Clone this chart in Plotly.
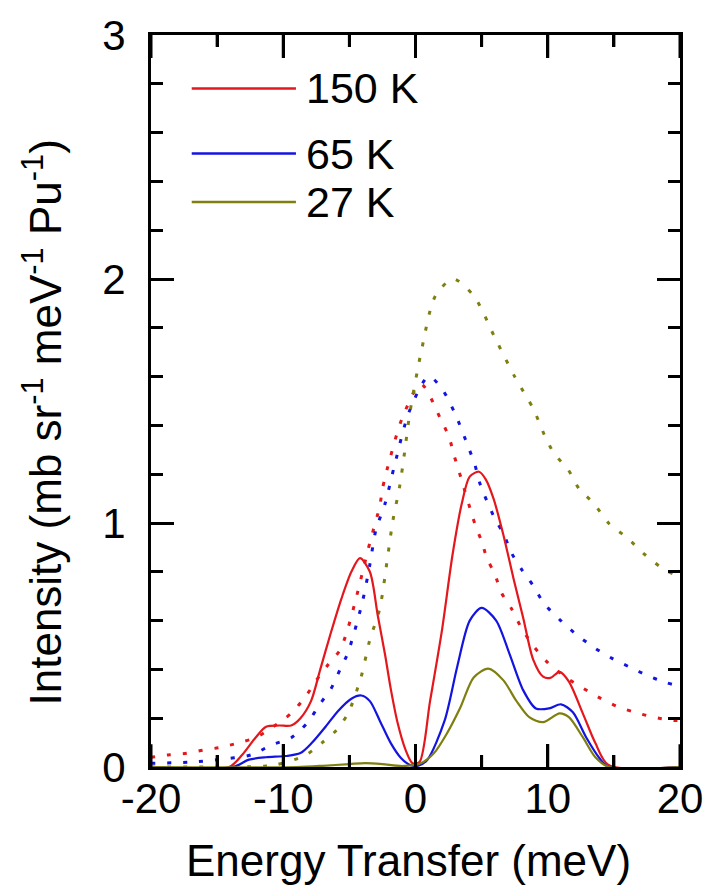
import plotly.graph_objects as go

# Series labels and colours
labels = ["150 K", "65 K", "27 K"]
colors = ["#e4171c", "#1414e0", "#7f7f10"]

# Broad (dotted) response curves: energy transfer (meV) and intensity
e_dot_150 = [-20, -18.6, -17.3, -16.0, -14.8, -13.3, -12.1, -10.9, -9.4, -8.3, -7.5, -6.6,
             -5.7, -5.1, -4.5, -4.0, -3.4, -2.7, -2.5, -1.9, -1.0, 0.4, 1.87, 2.55, 2.9, 3.3,
             4.5, 5.0, 5.4, 6.0, 6.5, 7.27, 8.0, 8.9, 10.0, 11.5, 12.7, 14.0, 15.4, 16.6,
             18.0, 19.3, 20]
i_dot_150 = [0.04, 0.05, 0.056, 0.07, 0.08, 0.10, 0.12, 0.16, 0.22, 0.29, 0.355, 0.42,
             0.48, 0.57, 0.69, 0.80, 0.93, 1.07, 1.14, 1.27, 1.43, 1.57, 1.43, 1.35, 1.28,
             1.21, 0.995, 0.925, 0.856, 0.79, 0.714, 0.648, 0.571, 0.497, 0.428, 0.363,
             0.322, 0.281, 0.245, 0.224, 0.204, 0.192, 0.19]

e_dot_65 = [-20, -17, -15, -12.4, -10.9, -9.4, -8.2, -7.2, -6.4, -5.7, -5.1, -4.0, -3.45,
            -3.0, -2.3, -1.57, -0.45, 1.0, 2.0, 3.0, 4.04, 4.49, 4.87, 5.99, 6.67, 7.27,
            8.01, 8.91, 9.74, 11.0, 12.28, 13.63, 14.9, 16.25, 17.53, 18.88, 20]
i_dot_65 = [0.015, 0.02, 0.03, 0.05, 0.09, 0.12, 0.18, 0.26, 0.32, 0.40, 0.47, 0.68, 0.83,
            0.97, 1.08, 1.24, 1.46, 1.60, 1.55, 1.447, 1.305, 1.239, 1.162, 1.019, 0.954,
            0.876, 0.811, 0.742, 0.669, 0.599, 0.538, 0.485, 0.444, 0.408, 0.375, 0.347,
            0.33]

e_dot_27 = [-20, -12, -10.6, -8.3, -7.1, -6.0, -5.1, -4.12, -3.47, -2.7, -2.1, -1.72, -1.2,
            -0.82, -0.45, 0.5, 1.5, 2.85, 4.42, 6.0, 7.5, 8.91, 9.74, 10.49, 11.54, 12.36,
            13.48, 14.61, 16.03, 17.23, 18.65, 19.78, 20]
i_dot_27 = [0.0, 0.002, 0.008, 0.049, 0.098, 0.15, 0.22, 0.368, 0.518, 0.65, 0.864, 1.007,
            1.15, 1.292, 1.443, 1.72, 1.93, 2.0, 1.93, 1.76, 1.6, 1.468, 1.362, 1.284,
            1.219, 1.141, 1.08, 0.999, 0.938, 0.876, 0.815, 0.783, 0.775]

# Structured (solid) spectra
e_sol_150 = [-20, -14.1, -13.1, -12.1, -11.3, -10.3, -9.4, -8.7, -7.9, -7.2, -6.4, -5.6,
             -4.85, -4.2, -3.45, -2.85, -2.3, -1.87, -1.35, -0.75, -0.22, 0.3, 1.1, 2.0,
             2.8, 3.5, 4.1, 4.8, 5.3, 5.9, 6.65, 7.4, 8.15, 8.9, 9.65, 10.2, 10.9, 11.6,
             12.65, 13.6, 14.6, 20]
i_sol_150 = [0, 0, 0.05, 0.12, 0.165, 0.17, 0.17, 0.20, 0.27, 0.40, 0.55, 0.69, 0.80,
             0.856, 0.80, 0.62, 0.46, 0.32, 0.18, 0.07, 0.015, 0.02, 0.27, 0.56, 0.87,
             1.08, 1.19, 1.21, 1.18, 1.10, 0.95, 0.775, 0.61, 0.44, 0.37, 0.365, 0.39,
             0.35, 0.22, 0.098, 0.008, 0]

e_sol_65 = [-20, -13.8, -12.6, -11.3, -9.8, -8.7, -7.85, -6.8, -5.85, -4.85, -4.1, -3.45,
            -2.7, -1.87, -1.1, -0.4, 0.2, 0.9, 2.2, 3.15, 4.1, 5.0, 6.1, 7.1, 8.15, 9.1,
            10.1, 11.0, 11.9, 12.9, 13.9, 14.6, 20]
i_sol_65 = [0, 0, 0.03, 0.04, 0.045, 0.057, 0.098, 0.165, 0.23, 0.28, 0.293, 0.27, 0.19,
            0.098, 0.037, 0.008, 0.005, 0.03, 0.19, 0.41, 0.60, 0.652, 0.60, 0.465, 0.314,
            0.24, 0.24, 0.257, 0.224, 0.122, 0.037, 0, 0]

e_sol_27 = [-20, -9, -7, -5, -3.8, -2.5, -1.0, 0.4, 1.4, 2.4, 3.4, 4.4, 5.5, 6.65, 7.6, 8.6,
            9.65, 10.9, 11.6, 12.65, 13.6, 14.6, 20]
i_sol_27 = [0, 0, 0.005, 0.012, 0.016, 0.012, 0.004, 0.015, 0.057, 0.14, 0.245, 0.367,
            0.403, 0.355, 0.273, 0.204, 0.184, 0.22, 0.204, 0.122, 0.04, 0, 0]

x_ticks = [-20, -10, 0, 10, 20]
x_minor_ticks = [-15, -5, 5, 15]
y_ticks = [0, 1, 2, 3]

dotted = [(e_dot_150, i_dot_150), (e_dot_65, i_dot_65), (e_dot_27, i_dot_27)]
solid = [(e_sol_150, i_sol_150), (e_sol_65, i_sol_65), (e_sol_27, i_sol_27)]

FONT = "Liberation Sans, Arial, sans-serif"
PLOT_H = 893 - 31 - 126  # plot-area height in px

fig = go.Figure()

for (e, i), c, name in zip(dotted, colors, labels):
    fig.add_trace(go.Scatter(
        x=e, y=i, mode="lines", name=name, showlegend=False,
        line=dict(color=c, width=3, dash="4px,12px", shape="spline", smoothing=0.8),
    ))

for (e, i), c, name in zip(solid, colors, labels):
    fig.add_trace(go.Scatter(
        x=e, y=i, mode="lines", name=name, showlegend=False,
        line=dict(color=c, width=2.2, shape="spline", smoothing=0.8),
    ))

# Legend drawn as line samples with labels in the upper-left corner
legend_y = [0.927, 0.838, 0.772]
for lab, c, yy in zip(labels, colors, legend_y):
    fig.add_shape(type="line", xref="paper", yref="paper",
                  x0=0.077, x1=0.274, y0=yy, y1=yy,
                  line=dict(color=c, width=2.5))
    fig.add_annotation(xref="paper", yref="paper", x=0.289, y=yy,
                       xanchor="left", yanchor="middle", text=lab, showarrow=False,
                       font=dict(family=FONT, size=43, color="black"))

# Inward tick marks on the bottom and top frame edges, placed on the x scale
for vals, length in ((x_ticks, 23), (x_minor_ticks, 12)):
    frac = length / PLOT_H
    for v in vals:
        fig.add_shape(type="line", xref="x", yref="paper", x0=v, x1=v, y0=0, y1=frac,
                      line=dict(color="black", width=3))
        fig.add_shape(type="line", xref="x", yref="paper", x0=v, x1=v, y0=1, y1=1 - frac,
                      line=dict(color="black", width=3))

fig.update_xaxes(
    range=[-20, 20], tickvals=x_ticks, ticktext=[str(v) for v in x_ticks],
    ticks="inside", ticklen=23, tickwidth=3, tickcolor="black",
    showline=True, linecolor="black", linewidth=3, mirror="allticks",
    showgrid=False, zeroline=False, ticklabelstandoff=-7,
    tickfont=dict(family=FONT, size=42, color="black"),
    minor=dict(dtick=5, ticks="inside", ticklen=12, tickwidth=3, tickcolor="black"),
)
fig.update_yaxes(
    range=[0, 3], tickvals=y_ticks, ticktext=[str(v) for v in y_ticks],
    ticks="inside", ticklen=23, tickwidth=3, tickcolor="black",
    showline=True, linecolor="black", linewidth=3, mirror="allticks",
    showgrid=False, zeroline=False, ticklabelstandoff=14,
    tickfont=dict(family=FONT, size=42, color="black"),
    minor=dict(dtick=0.2, ticks="inside", ticklen=12, tickwidth=3, tickcolor="black"),
)

# Axis titles
fig.add_annotation(xref="paper", yref="paper", x=0.487, y=-0.128, xanchor="center",
                   yanchor="middle", showarrow=False,
                   text="Energy Transfer (meV)",
                   font=dict(family=FONT, size=44, color="black"))
fig.add_annotation(xref="paper", yref="paper", x=-0.205, y=0.47, xanchor="center",
                   yanchor="middle", showarrow=False, textangle=-90,
                   text="Intensity (mb sr<sup>-1</sup> meV<sup>-1</sup> Pu<sup>-1</sup>)",
                   font=dict(family=FONT, size=44, color="black"))

fig.update_layout(
    width=715, height=893,
    margin=dict(l=151, r=30, t=31, b=126),
    paper_bgcolor="white", plot_bgcolor="white",
    showlegend=False,
)

fig.write_html("out.html")
